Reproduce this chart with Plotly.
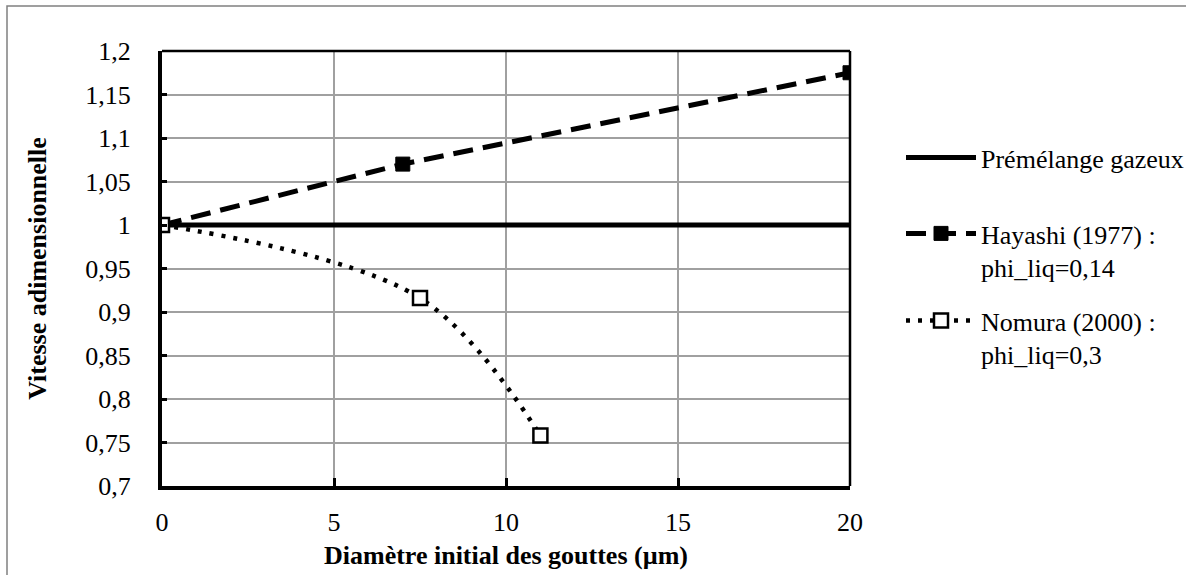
import plotly.graph_objects as go

# Data
prem_x = [0, 20]
prem_y = [1.0, 1.0]
hay_x = [0, 7, 20]
hay_y = [1.0, 1.07, 1.175]
nom_x = [0, 7.5, 11]
nom_y = [1.0, 0.916, 0.758]
names = ["Prémélange gazeux", "Hayashi (1977) :<br>phi_liq=0,14", "Nomura (2000) :<br>phi_liq=0,3"]
x_ticks = [0, 5, 10, 15, 20]
y_ticks = [0.7, 0.75, 0.8, 0.85, 0.9, 0.95, 1.0, 1.05, 1.1, 1.15, 1.2]
y_tick_text = ["0,7", "0,75", "0,8", "0,85", "0,9", "0,95", "1", "1,05", "1,1", "1,15", "1,2"]

W, H = 1186, 575
L, R, T, B = 162, 850, 51, 486
pw, ph = R - L, B - T

def px_x(p):
    return (p - L) / pw

def px_y(p):
    return (B - p) / ph

FONT = "Liberation Serif"
FS = 26

fig = go.Figure()
fig.add_trace(go.Scatter(x=prem_x, y=prem_y, mode="lines", name=names[0],
                         line=dict(color="black", width=5), legend="legend"))
fig.add_trace(go.Scatter(x=hay_x, y=hay_y, mode="lines+markers", name=names[1],
                         line=dict(color="black", width=5, dash="20px,10px"),
                         marker=dict(symbol="square", size=14, color="black",
                                     line=dict(color="black", width=1)),
                         legend="legend2"))
fig.add_trace(go.Scatter(x=nom_x, y=nom_y, mode="lines+markers", name=names[2],
                         line=dict(color="black", width=4.5, dash="4px,8px", shape="spline"),
                         marker=dict(symbol="square", size=14, color="white",
                                     line=dict(color="black", width=2.5)),
                         legend="legend3"))

leg_common = dict(font=dict(family=FONT, size=FS, color="black"), itemwidth=70,
                  bgcolor="rgba(0,0,0,0)", borderwidth=0, valign="top",
                  xanchor="left", yanchor="top", x=px_x(901))
fig.update_layout(
    width=W, height=H,
    margin=dict(l=L, r=W - R, t=T, b=H - B, pad=0, autoexpand=False),
    paper_bgcolor="white", plot_bgcolor="white",
    font=dict(family=FONT, size=FS, color="black"),
    showlegend=True,
    legend=dict(**leg_common, y=px_y(134)),
    legend2=dict(**leg_common, y=px_y(210)),
    legend3=dict(**leg_common, y=px_y(297)),
    xaxis=dict(range=[0, 20], tickvals=x_ticks, ticktext=[str(v) for v in x_ticks],
               showgrid=True, gridcolor="#a0a0a0", gridwidth=2,
               showline=True, linecolor="black", linewidth=4,
               ticks="inside", ticklen=8, tickwidth=3, tickcolor="black",
               ticklabelstandoff=10, zeroline=False,
               tickfont=dict(family=FONT, size=FS, color="black"),
               title=dict(text="<b>Diamètre initial des gouttes (µm)</b>", standoff=11,
                          font=dict(family=FONT, size=FS, color="black"))),
    yaxis=dict(range=[0.7, 1.2], tickvals=y_ticks, ticktext=y_tick_text,
               showgrid=True, gridcolor="#a0a0a0", gridwidth=2,
               showline=True, linecolor="black", linewidth=4,
               ticks="inside", ticklen=5, tickwidth=3, tickcolor="black",
               ticklabelstandoff=22, zeroline=False,
               tickfont=dict(family=FONT, size=FS, color="black"),
               title=dict(text="<b>Vitesse adimensionnelle</b>", standoff=32,
                          font=dict(family=FONT, size=FS, color="black"))),
    shapes=[
        dict(type="line", xref="paper", yref="paper", x0=0, x1=1, y0=1, y1=1,
             line=dict(color="black", width=2.5), layer="above"),
        dict(type="line", xref="paper", yref="paper", x0=1, x1=1, y0=0, y1=1,
             line=dict(color="black", width=2.5), layer="above"),
        dict(type="rect", xref="paper", yref="paper",
             x0=px_x(7), x1=px_x(W + 20), y0=px_y(H + 20), y1=px_y(6),
             line=dict(color="#808080", width=1.5), layer="below"),
    ],
)
fig.update_xaxes(automargin=False)
fig.update_yaxes(automargin=False)

fig.write_html("out.html")
